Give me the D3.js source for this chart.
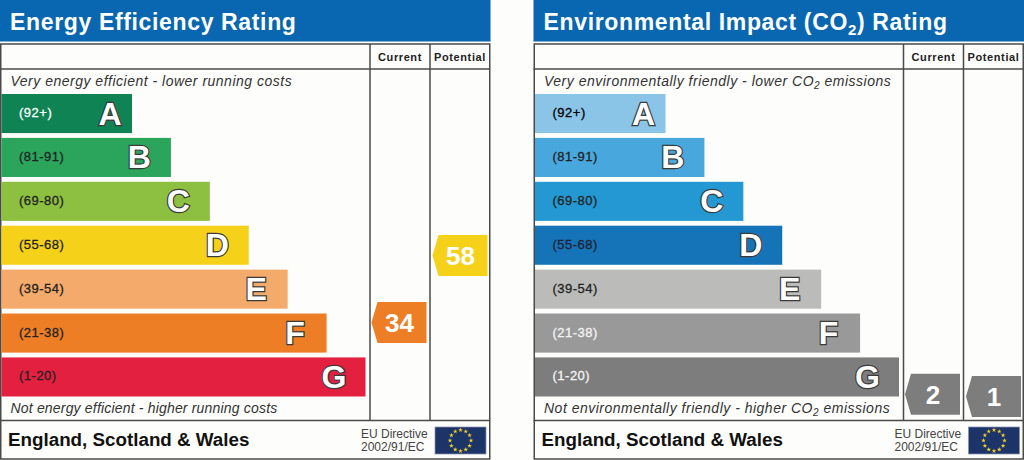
<!DOCTYPE html>
<html>
<head>
<meta charset="utf-8">
<script src="https://cdn.jsdelivr.net/npm/d3@7"></script>
<style>
html, body { margin: 0; padding: 0; background: #fdfdfb; overflow: hidden; }
text { font-family: "Liberation Sans", Arial, sans-serif; }
</style>
</head>
<body>
<script>
// Band data
var bandLetters = ["A", "B", "C", "D", "E", "F", "G"];
var bandRanges = ["(92+)", "(81-91)", "(69-80)", "(55-68)", "(39-54)", "(21-38)", "(1-20)"];
var energyColors = ["#0f8354", "#2aa55b", "#8dbf41", "#f6d11a", "#f3aa6b", "#ee7e26", "#e3203f"];
var co2Colors = ["#8ac4e6", "#48a7dc", "#2498d2", "#1573b8", "#bbbbb9", "#999999", "#7d7d7d"];
var energyLabelColors = ["#fff", "#222", "#222", "#222", "#222", "#222", "#222"];
var co2LabelColors = ["#000", "#222", "#222", "#223", "#222", "#f4f4f4", "#f4f4f4"];

// Ratings
var energyCurrent = 34, energyPotential = 58;
var co2Current = 2, co2Potential = 1;

// Set width and height
var width = 1024, height = 460;

var svg = d3.select("body").append("svg")
    .attr("width", width)
    .attr("height", height);

var yBand = d3.scaleBand()
    .domain(bandLetters)
    .range([94, 396.5])
    .paddingInner(0.11)
    .paddingOuter(0);

var xBand = d3.scaleLinear()
    .domain([0, 6])
    .range([130.5, 364]);

// rating score to arrow centre
var yScore = d3.scaleLinear()
    .domain([1, 34, 58])
    .range([396.5, 322.5, 255.5]);

function panel(x0, title, subscriptTitle, topText, bottomText, bottomSpacing, colors, labelColors, current, potential, arrowColors) {
    var g = svg.append("g").attr("transform", "translate(" + x0 + ",0)");

    // header
    g.append("rect").attr("x", 0).attr("y", 0).attr("width", 490.5).attr("height", 41.5).attr("fill", "#0867b0");
    var t = g.append("text").attr("x", 10).attr("y", 29.5)
        .attr("fill", "#fff").style("font-size", "23px").style("font-weight", "bold")
        .style("letter-spacing", "0.65px").text(title);
    if (subscriptTitle) {
        t.append("tspan").attr("dy", 5).style("font-size", "15px").text("2");
        t.append("tspan").attr("dy", -5).text(subscriptTitle);
    }

    // frame
    var line = "#4a4a4a";
    g.append("rect").attr("x", 0.75).attr("y", 44).attr("width", 489).attr("height", 415)
        .attr("fill", "#fdfdfb").attr("stroke", line).attr("stroke-width", 1.5);
    [[0, 490, 69, 69], [0, 490, 420.5, 420.5], [370, 370, 44, 420], [430, 430, 44, 420]].forEach(function(l) {
        g.append("line").attr("x1", l[0]).attr("x2", l[1]).attr("y1", l[2]).attr("y2", l[3])
            .attr("stroke", line).attr("stroke-width", 1.5);
    });

    // column headings
    [["Current", 400], ["Potential", 460]].forEach(function(c) {
        g.append("text").attr("x", c[1]).attr("y", 61).attr("text-anchor", "middle")
            .attr("fill", "#222").style("font-size", "11px").style("font-weight", "bold")
            .style("letter-spacing", "0.6px").text(c[0]);
    });

    // captions
    captionText(g, 86, topText, 0.5);
    captionText(g, 413, bottomText, bottomSpacing);

    // bars
    var bars = g.selectAll(".bar").data(bandLetters).enter().append("g").attr("class", "bar");
    bars.append("rect")
        .attr("x", 1.5)
        .attr("y", function(d) { return yBand(d); })
        .attr("width", function(d, i) { return xBand(i); })
        .attr("height", yBand.bandwidth())
        .attr("fill", function(d, i) { return colors[i]; });
    bars.append("text")
        .attr("x", 19)
        .attr("y", function(d) { return yBand(d) + yBand.bandwidth() / 2 + 3.5; })
        .attr("fill", function(d, i) { return labelColors[i]; })
        .attr("stroke", function(d, i) { return labelColors[i]; })
        .attr("stroke-width", 0.3)
        .style("font-size", "13px")
        .style("letter-spacing", "0.5px")
        .text(function(d, i) { return bandRanges[i]; });
    bars.append("text")
        // the A letter sits closer to the end of its short bar
        .attr("x", function(d, i) { return xBand(i) + 1.5 - (i === 0 ? 22 : 31.5); })
        .attr("y", function(d) { return yBand(d) + yBand.bandwidth() / 2 + 11; })
        .attr("text-anchor", "middle")
        .attr("fill", "#fff")
        .attr("stroke", "#3a3a3a")
        .attr("stroke-width", 2.4)
        .attr("paint-order", "stroke")
        .style("font-size", "32px")
        .style("font-weight", "bold")
        .text(function(d) { return d; });

    // rating arrows
    arrow(g, 426.5, current, arrowColors[0]);
    arrow(g, 487.5, potential, arrowColors[1]);

    // footer
    g.append("text").attr("x", 8).attr("y", 446).attr("fill", "#111")
        .style("font-size", "18.8px").style("font-weight", "bold").text("England, Scotland & Wales");
    g.append("text").attr("x", 361).attr("y", 438).attr("fill", "#444")
        .style("font-size", "12px").text("EU Directive");
    g.append("text").attr("x", 361).attr("y", 451).attr("fill", "#444")
        .style("font-size", "12px").text("2002/91/EC");
    flag(g, 435, 427, 51, 27);
}

// caption with an optional CO2 subscript, split on "CO2"
function captionText(g, y, str, spacing) {
    var parts = str.split("CO2");
    var t = g.append("text").attr("x", 10.5).attr("y", y).attr("fill", "#333")
        .style("font-size", "14px").style("font-style", "italic").style("letter-spacing", spacing + "px")
        .text(parts[0]);
    if (parts.length > 1) {
        t.append("tspan").text("CO");
        t.append("tspan").attr("dy", 3).style("font-size", "10px").text("2");
        t.append("tspan").attr("dy", -3).text(parts[1]);
    }
}

function arrow(g, right, score, color) {
    var cy = yScore(score), w = 55, h = 41, tip = 6;
    var pts = [[right, cy - h / 2], [right - w + tip, cy - h / 2], [right - w, cy],
               [right - w + tip, cy + h / 2], [right, cy + h / 2]];
    g.append("path").attr("d", d3.line()(pts) + "Z").attr("fill", color);
    g.append("text").attr("x", right - w / 2 + 0.5).attr("y", cy + 9.5)
        .attr("text-anchor", "middle").attr("fill", "#fff")
        .style("font-size", "26px").style("font-weight", "bold").text(score);
}

function flag(g, x, y, w, h) {
    g.append("rect").attr("x", x).attr("y", y).attr("width", w).attr("height", h)
        .attr("fill", "#1c3468").attr("stroke", "#8a93ad").attr("stroke-width", 0.75);
    var star = d3.symbol().type(d3.symbolStar).size(7);
    d3.range(12).forEach(function(i) {
        var a = i * Math.PI / 6;
        g.append("path").attr("d", star())
            .attr("fill", "#f0cf2c")
            .attr("transform", "translate(" + (x + w / 2 + 10.5 * Math.sin(a)) + "," + (y + h / 2 - 10.5 * Math.cos(a)) + ")");
    });
}

panel(0, "Energy Efficiency Rating", null,
    "Very energy efficient - lower running costs",
    "Not energy efficient - higher running costs", 0.18,
    energyColors, energyLabelColors, energyCurrent, energyPotential,
    [energyColors[5], energyColors[3]]);

panel(533.5, "Environmental Impact (CO", ") Rating",
    "Very environmentally friendly - lower CO2 emissions",
    "Not environmentally friendly - higher CO2 emissions", 0.5,
    co2Colors, co2LabelColors, co2Current, co2Potential,
    [co2Colors[6], co2Colors[6]]);
</script>
</body>
</html>
